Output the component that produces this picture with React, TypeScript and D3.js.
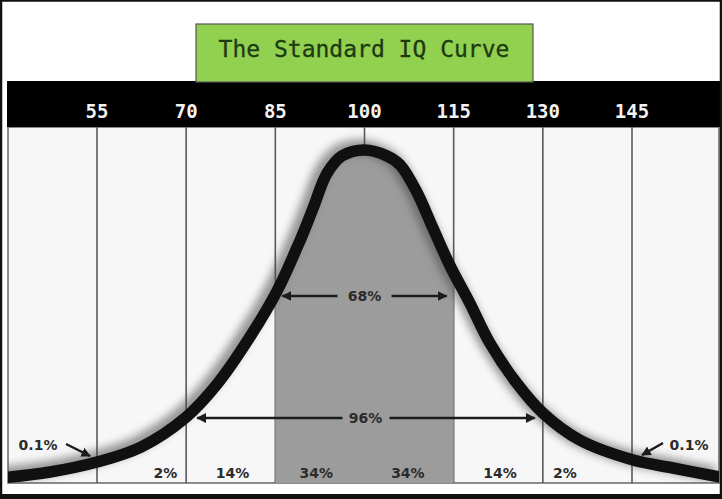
import React from "react";
import * as d3 from "d3";

const tickValues = [55, 70, 85, 100, 115, 130, 145];
const curveIQ = [39.5, 47.1, 55, 62.4, 70, 75.2, 80.7, 85.3, 89.2, 91.3, 93.7, 96.2, 100, 103.8, 106, 108.8, 111.5, 114.4, 117.7, 121.1, 125.6, 130, 136.2, 145.2, 151.9, 159.8];
const curveHeight = [1.65, 3.3, 6.3, 10.8, 19.8, 29.7, 43.8, 57.7, 73, 82.3, 93, 98.2, 100, 98.2, 95.5, 87.4, 76.6, 65.2, 54.1, 42, 30, 21, 12.9, 6.9, 4.5, 1.8];
const bandLabels = ["2%", "14%", "34%", "34%", "14%", "2%"];
const bandLabelIQ = [66.5, 77.8, 91.9, 107.3, 122.8, 133.7];
const tailLabel = "0.1%";
const innerLabel = "68%";
const outerLabel = "96%";
const title = "The Standard IQ Curve";

const W = 722, H = 499;
const plot = { left: 8, right: 719, top: 127, bottom: 483 };

export default function App() {
  const x = d3.scaleLinear().domain([55, 145]).range([97, 632]);
  const y = d3.scaleLinear().domain([0, 100]).range([483, 150]);
  const pts: [number, number][] = curveIQ.map((v, i) => [v, curveHeight[i]]);
  const curve = d3.curveCatmullRom.alpha(0.5);
  const line = d3.line<[number, number]>().x(d => x(d[0])).y(d => y(d[1])).curve(curve);
  const area = d3.area<[number, number]>().x(d => x(d[0])).y0(plot.bottom).y1(d => y(d[1])).curve(curve);
  const pathD = line(pts) || "";
  const areaD = area(pts) || "";
  const pctFont = { fontFamily: "DejaVu Sans", fontWeight: 700, fontSize: 14, fill: "#2b2b2b" } as const;
  const arrowColor = "#1c1c1c";
  const yInner = 296, yOuter = 418;
  return (
    <svg width={W} height={H} style={{ position: "absolute", left: 0, top: 0, background: "#fff" }}>
      <defs>
        <clipPath id="plotClip"><rect x={plot.left} y={plot.top} width={plot.right - plot.left} height={plot.bottom - plot.top} /></clipPath>
        <clipPath id="midClip"><rect x={x(85)} y={plot.top} width={x(115) - x(85)} height={plot.bottom - plot.top} /></clipPath>
        <filter id="blur" x="-20%" y="-20%" width="140%" height="140%"><feGaussianBlur stdDeviation="4.5" /></filter>
        <marker id="ah" viewBox="0 0 10 10" refX="9" refY="5" markerWidth="4" markerHeight="4" orient="auto-start-reverse" markerUnits="strokeWidth">
          <path d="M0,0 L10,5 L0,10 z" fill={arrowColor} />
        </marker>
      </defs>
      <rect x={0} y={0} width={W} height={H} fill="#fff" />
      <rect x={plot.left} y={plot.top} width={plot.right - plot.left} height={plot.bottom - plot.top} fill="#f7f7f7" stroke="#666" strokeWidth={1.5} />
      {tickValues.map(v => (
        <line key={v} x1={x(v)} x2={x(v)} y1={plot.top} y2={plot.bottom} stroke="#5a5a5a" strokeWidth={1.6} />
      ))}
      <g clipPath="url(#midClip)">
        <path d={areaD} fill="#9c9c9c" />
      </g>
      <g clipPath="url(#plotClip)">
        <path d={pathD} fill="none" stroke="#444" strokeWidth={15} filter="url(#blur)" opacity={0.55} transform="translate(-5,-3)" />
        <path d={pathD} fill="none" stroke="#101010" strokeWidth={11.5} strokeLinejoin="round" />
      </g>
      <rect x={7} y={81} width={W - 7} height={plot.top - 81} fill="#000" />
      {tickValues.map(v => (
        <text key={v} x={x(v)} y={118} textAnchor="middle" fill="#f2f2f2" fontFamily="DejaVu Sans Mono" fontWeight={700} fontSize={19}>{v}</text>
      ))}
      <rect x={196} y={24} width={337} height={58} fill="#92d050" stroke="#555" strokeWidth={1.2} />
      <text x={364} y={57} textAnchor="middle" fill="#1d3a10" fontFamily="DejaVu Sans Mono" fontSize={23} stroke="#1d3a10" strokeWidth={0.3}>{title}</text>
      <line x1={x(100) - 27} x2={x(85) + 7} y1={yInner} y2={yInner} stroke={arrowColor} strokeWidth={2.5} markerEnd="url(#ah)" />
      <line x1={x(100) + 27} x2={x(115) - 7} y1={yInner} y2={yInner} stroke={arrowColor} strokeWidth={2.5} markerEnd="url(#ah)" />
      <text x={x(100)} y={yInner + 5} textAnchor="middle" {...pctFont}>{innerLabel}</text>
      <line x1={x(100) - 22} x2={x(70) + 11} y1={yOuter} y2={yOuter} stroke={arrowColor} strokeWidth={2.5} markerEnd="url(#ah)" />
      <line x1={x(100) + 25} x2={x(130) - 8} y1={yOuter} y2={yOuter} stroke={arrowColor} strokeWidth={2.5} markerEnd="url(#ah)" />
      <text x={x(100) + 1} y={yOuter + 5} textAnchor="middle" {...pctFont}>{outerLabel}</text>
      {bandLabels.map((t, i) => (
        <text key={i} x={x(bandLabelIQ[i])} y={478} textAnchor="middle" {...pctFont}>{t}</text>
      ))}
      <text x={38} y={450} textAnchor="middle" {...pctFont}>{tailLabel}</text>
      <line x1={66} y1={444} x2={90} y2={456} stroke={arrowColor} strokeWidth={2.4} markerEnd="url(#ah)" />
      <text x={689} y={450} textAnchor="middle" {...pctFont}>{tailLabel}</text>
      <line x1={663} y1={443} x2={642} y2={455} stroke={arrowColor} strokeWidth={2.4} markerEnd="url(#ah)" />
      <rect x={1} y={0.5} width={W - 2} height={H - 1} fill="none" stroke="#111" strokeWidth={2.5} />
      <rect x={0} y={494} width={W} height={5} fill="#111" />
    </svg>
  );
}
